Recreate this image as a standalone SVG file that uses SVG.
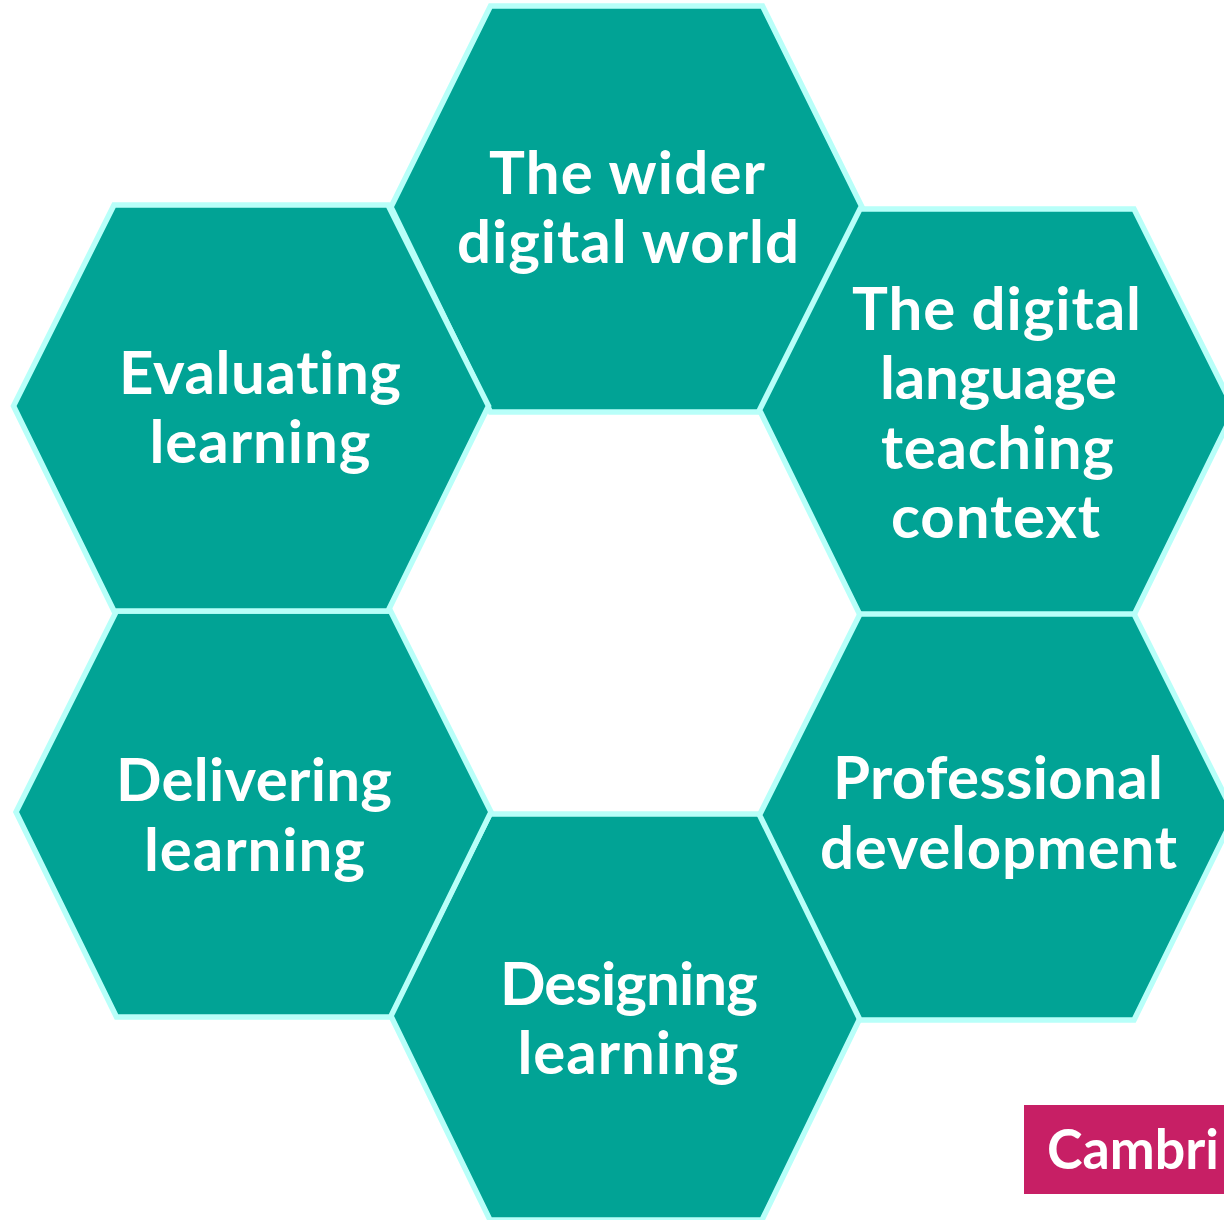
<svg xmlns="http://www.w3.org/2000/svg" width="1224" height="1220" viewBox="0 0 1224 1220">
<style>
.hex{fill:#01a395;stroke:#b8fff9;stroke-width:5.5;stroke-linejoin:miter}
.t{font-family:"Lato","Open Sans","DejaVu Sans",sans-serif;font-size:60px;font-weight:700;fill:#fff;text-anchor:middle;font-variant-ligatures:none}
</style>
<defs>
<polygon id="h" points="-137,-203 137,-203 237.5,-2 137,203 -137,203 -237.5,-2"/>
<polygon id="c" points="-136,-203 136,-203 235.5,-2 136,203 -136,203 -235.5,-2"/>
</defs>
<rect width="1224" height="1220" fill="#fff"/>
<g id="wider"><use href="#c" class="hex" x="626.5" y="209"/><text class="t" x="627" y="194" textLength="276">The wider</text><text class="t" x="628" y="263" textLength="342">digital world</text></g>
<g id="context"><use href="#h" class="hex" x="997" y="412"/><text class="t" x="996.5" y="330" textLength="289">The digital</text><text class="t" x="998.5" y="399" textLength="237">language</text><text class="t" x="997.5" y="469" textLength="233">teaching</text><text class="t" x="995.5" y="538" textLength="209">context</text></g>
<g id="designing"><use href="#c" class="hex" x="626" y="1017"/><text class="t" x="629" y="1005" textLength="258">Designing</text><text class="t" x="628" y="1074" textLength="221">learning</text></g>
<g id="professional"><use href="#h" class="hex" x="997" y="817"/><text class="t" x="998" y="799" textLength="330">Professional</text><text class="t" x="998.5" y="869" textLength="357">development</text></g>
<g id="delivering"><use href="#h" class="hex" x="253.5" y="814"/><text class="t" x="254" y="801" textLength="276">Delivering</text><text class="t" x="254.5" y="871" textLength="221">learning</text></g>
<g id="evaluating"><use href="#h" class="hex" x="251" y="408"/><text class="t" x="260" y="394" textLength="282">Evaluating</text><text class="t" x="260" y="463" textLength="221">learning</text></g>
<g id="logo"><rect x="1024" y="1105" width="200" height="89" fill="#c71f65"/><text x="1047" y="1169" font-family="Lato,'Open Sans',sans-serif" font-size="55" font-weight="700" textLength="172" lengthAdjust="spacingAndGlyphs" fill="#fff">Cambri</text></g>
</svg>
